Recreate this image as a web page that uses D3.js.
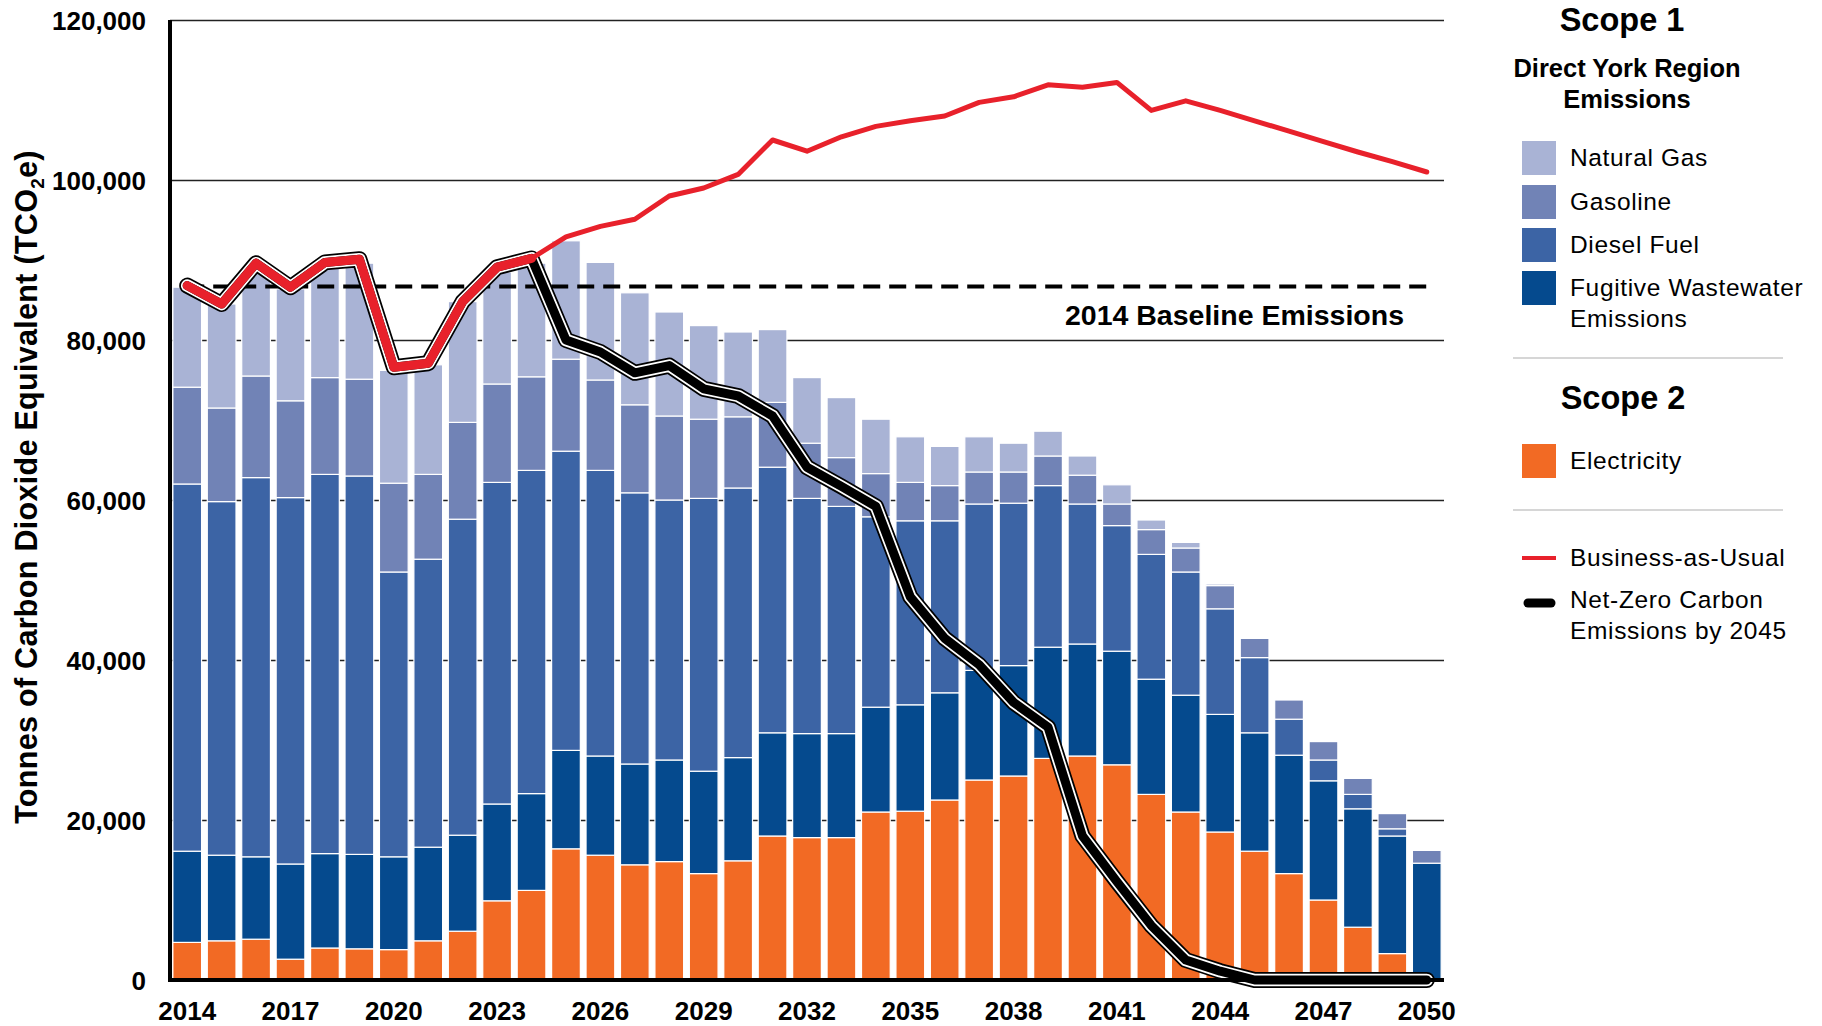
<!DOCTYPE html>
<html><head><meta charset="utf-8">
<script src="https://cdn.jsdelivr.net/npm/d3@7"></script>
<style>
body{margin:0;background:#fff}
svg{display:block}
text{font-family:"Liberation Sans",Arial,Helvetica,sans-serif;fill:#000}
</style>
</head><body>
<svg id="chart" width="1822" height="1026"></svg>
<script>
// ---------- DATA ----------
const years = [2014,2015,2016,2017,2018,2019,2020,2021,2022,2023,2024,2025,2026,2027,2028,2029,2030,2031,2032,2033,2034,2035,2036,2037,2038,2039,2040,2041,2042,2043,2044,2045,2046,2047,2048,2049,2050];
const electricity = [4700,4900,5100,2600,4000,3900,3800,4900,6100,9900,11200,16400,15600,14400,14800,13300,14900,18000,17800,17800,21000,21100,22500,25000,25500,27700,28000,26900,23200,21000,18500,16100,13300,10000,6600,3300,0];
const fugitive = [11400,10700,10300,11900,11800,11800,11600,11700,12000,12100,12100,12300,12400,12600,12700,12800,12900,12900,13000,13000,13100,13300,13400,13700,13800,13900,14000,14200,14400,14600,14700,14800,14800,14900,14800,14700,14600];
const diesel = [45900,44200,47400,45800,47400,47300,35600,36000,39500,40200,40400,37400,35700,33900,32500,34100,33700,33200,29400,28400,23800,23000,21500,20800,20300,20200,17500,15700,15600,15400,13200,9400,4500,2600,1800,900,0];
const gasoline = [12100,11700,12700,12100,12100,12100,11100,10600,12100,12300,11700,11500,11300,11000,10500,9900,8900,8100,6900,6100,5400,4800,4400,4000,3900,3700,3600,2700,3100,3000,2900,2400,2400,2300,2000,1900,1600];
const naturalGas = [12500,13000,13500,14000,13700,14500,14100,13700,15100,14000,14200,14800,14700,14000,13000,11700,10600,9100,8200,7500,6800,5700,4900,4400,3600,3100,2400,2400,1200,700,200,0,0,0,0,0,0];
const businessAsUsual = [86800,84500,89600,86600,89700,90100,76600,77100,84800,89100,90200,92900,94200,95100,98000,99000,100700,105000,103600,105400,106700,107400,108000,109700,110400,111900,111600,112200,108700,109900,108700,107400,106100,104800,103500,102300,101000];
const netZero = [86800,84500,89600,86600,89700,90100,76600,77100,84800,89100,90200,80000,78500,75900,76800,73900,73000,70500,64100,61700,59200,47900,42700,39400,34700,31600,18000,12300,6800,2500,1100,0,0,0,0,0,0];
const baseline2014 = 86700;
const yTickValues = [0,20000,40000,60000,80000,100000,120000];
const xTickYears = [2014,2017,2020,2023,2026,2029,2032,2035,2038,2041,2044,2047,2050];
const seriesKeys = ["electricity","fugitive","diesel","gasoline","naturalGas"];
const seriesColors = {electricity:"#F26A24",fugitive:"#054A8E",diesel:"#3C64A5",gasoline:"#7183B6",naturalGas:"#A9B3D5"};
const scope1Legend = [["naturalGas",["Natural Gas"]],["gasoline",["Gasoline"]],["diesel",["Diesel Fuel"]],["fugitive",["Fugitive Wastewater","Emissions"]]];

// ---------- CHART ----------
const svg = d3.select("#chart");
const pLeft = 170, pRight = 1444, pTop = 20, pBottom = 980;
const FONT = '"Liberation Sans",Arial,sans-serif';

const x = d3.scaleBand().domain(years).range([pLeft, pRight]).paddingInner(0.166).paddingOuter(0.083);
const y = d3.scaleLinear().domain([0,120000]).range([pBottom, pTop]);
const cx = yr => x(yr) + x.bandwidth()/2;

// gridlines
const grid = svg.append("g").attr("transform",`translate(${pLeft},0)`)
  .call(d3.axisLeft(y).tickValues(yTickValues.filter(v=>v>0)).tickSize(-(pRight-pLeft)).tickFormat(""));
grid.select(".domain").remove();
grid.selectAll("line").attr("stroke","#222").attr("stroke-width",1.3);

// stacked bars
const rows = years.map((yr,i)=>({year:yr, electricity:electricity[i], fugitive:fugitive[i], diesel:diesel[i], gasoline:gasoline[i], naturalGas:naturalGas[i]}));
const stacked = d3.stack().keys(seriesKeys)(rows);
svg.append("g").selectAll("g").data(stacked).join("g")
  .attr("fill", s => seriesColors[s.key])
  .selectAll("rect").data(s => s.filter(d => d[1]-d[0] > 0)).join("rect")
  .attr("x", d => x(d.data.year))
  .attr("width", x.bandwidth())
  .attr("y", d => y(d[1]))
  .attr("height", d => y(d[0]) - y(d[1]))
  .attr("stroke","#fff").attr("stroke-width",1.2);

// baseline dashed
const line = d3.line().x((d,i)=>cx(years[i])).y(d=>y(d));
svg.append("path").datum(years.map(()=>baseline2014)).attr("d", line)
  .attr("fill","none").attr("stroke","#000").attr("stroke-width",4).attr("stroke-dasharray","17,9");
svg.append("text").attr("x",1404).attr("y",325).attr("text-anchor","end")
  .attr("font-size",28.5).attr("font-weight","bold").text("2014 Baseline Emissions");

// net-zero line (black / white / black)
[["#000",16],["#fff",12.5],["#000",9]].forEach(([c,w])=>{
  svg.append("path").datum(netZero).attr("d", line).attr("fill","none")
    .attr("stroke",c).attr("stroke-width",w).attr("stroke-linejoin","round").attr("stroke-linecap","round");
});
// business-as-usual (red)
const histCount = years.indexOf(2024)+1;
svg.append("path").datum(businessAsUsual.slice(0,histCount)).attr("d", line).attr("fill","none")
  .attr("stroke","#E8212B").attr("stroke-width",9).attr("stroke-linejoin","round").attr("stroke-linecap","round");
const lineFrom = d3.line().x(d=>cx(d[0])).y(d=>y(d[1]));
svg.append("path").datum(years.map((yr,i)=>[yr,businessAsUsual[i]]).slice(histCount-1)).attr("d", lineFrom).attr("fill","none")
  .attr("stroke","#E8212B").attr("stroke-width",5).attr("stroke-linejoin","round").attr("stroke-linecap","round");

// axes
svg.append("line").attr("x1",pLeft).attr("x2",pLeft).attr("y1",pTop).attr("y2",pBottom+2).attr("stroke","#000").attr("stroke-width",4);
svg.append("line").attr("x1",pLeft-2).attr("x2",pRight).attr("y1",pBottom).attr("y2",pBottom).attr("stroke","#000").attr("stroke-width",4);

const yAxis = svg.append("g").attr("transform",`translate(${pLeft},0)`)
  .call(d3.axisLeft(y).tickValues(yTickValues).tickSize(0).tickPadding(24).tickFormat(d3.format(",")));
yAxis.select(".domain").remove();
yAxis.selectAll("text").attr("font-size",26).attr("font-weight","bold").attr("font-family",FONT).attr("fill","#000").attr("dy","0.35em");

const xAxis = svg.append("g").attr("transform",`translate(0,${pBottom})`)
  .call(d3.axisBottom(x).tickValues(xTickYears).tickSize(0).tickPadding(22));
xAxis.select(".domain").remove();
xAxis.selectAll("text").attr("font-size",26).attr("font-weight","bold").attr("font-family",FONT).attr("fill","#000");

// y title
const yt = svg.append("text").attr("transform","translate(37,487) rotate(-90)").attr("text-anchor","middle")
  .attr("font-size",30.5).attr("font-weight","bold").attr("letter-spacing",0.3);
yt.append("tspan").text("Tonnes of Carbon Dioxide Equivalent (TCO");
yt.append("tspan").attr("font-size",19).attr("dy",7).text("2");
yt.append("tspan").attr("dy",-7).text("e)");

// ---------- LEGEND ----------
const lg = svg.append("g");
const LS = 0.65;
lg.append("text").attr("x",1622).attr("y",31).attr("text-anchor","middle").attr("font-size",32.5).attr("font-weight","bold").text("Scope 1");
lg.append("text").attr("x",1627).attr("y",77).attr("text-anchor","middle").attr("font-size",25.5).attr("font-weight","bold").text("Direct York Region");
lg.append("text").attr("x",1627).attr("y",108).attr("text-anchor","middle").attr("font-size",25.5).attr("font-weight","bold").text("Emissions");
const rowY = [158,202,245,288];
scope1Legend.forEach(([k,lines],i)=>{
  lg.append("rect").attr("x",1522).attr("y",rowY[i]-17).attr("width",34).attr("height",34).attr("fill",seriesColors[k]);
  lines.forEach((t,j)=>lg.append("text").attr("x",1570).attr("y",rowY[i]+8+j*31).attr("font-size",24.5).attr("letter-spacing",LS).text(t));
});
lg.append("line").attr("x1",1513).attr("x2",1783).attr("y1",358).attr("y2",358).attr("stroke","#c8c8c8").attr("stroke-width",1.5);
lg.append("text").attr("x",1623).attr("y",409).attr("text-anchor","middle").attr("font-size",32.5).attr("font-weight","bold").text("Scope 2");
lg.append("rect").attr("x",1522).attr("y",444).attr("width",34).attr("height",34).attr("fill",seriesColors.electricity);
lg.append("text").attr("x",1570).attr("y",469).attr("font-size",24.5).attr("letter-spacing",LS).text("Electricity");
lg.append("line").attr("x1",1513).attr("x2",1783).attr("y1",510).attr("y2",510).attr("stroke","#c8c8c8").attr("stroke-width",1.5);
lg.append("line").attr("x1",1522).attr("x2",1556).attr("y1",558).attr("y2",558).attr("stroke","#E8212B").attr("stroke-width",4);
lg.append("text").attr("x",1570).attr("y",566).attr("font-size",24.5).attr("letter-spacing",LS).text("Business-as-Usual");
lg.append("line").attr("x1",1528).attr("x2",1551).attr("y1",603).attr("y2",603).attr("stroke","#000").attr("stroke-width",9).attr("stroke-linecap","round");
lg.append("text").attr("x",1570).attr("y",608).attr("font-size",24.5).attr("letter-spacing",LS).text("Net-Zero Carbon");
lg.append("text").attr("x",1570).attr("y",639).attr("font-size",24.5).attr("letter-spacing",LS).text("Emissions by 2045");
</script>
</body></html>
